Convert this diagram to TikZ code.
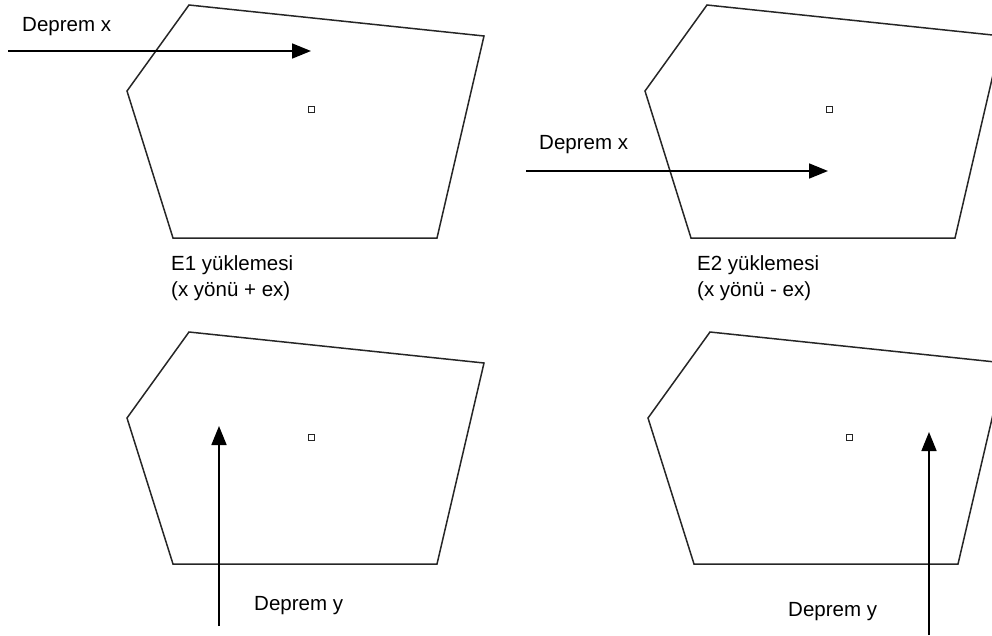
\documentclass[tikz,border=0pt]{standalone}
\usepackage{fontspec}
\setmainfont{Liberation Sans}
\usetikzlibrary{arrows.meta}
\tikzset{
  plate/.style={draw=black!85, line width=1.5pt, line join=miter},
  force/.style={draw=black, line width=1.7pt, -{Triangle[length=19pt,width=15pt]}},
  masspt/.style={draw=black!85, line width=1pt, minimum size=6pt, inner sep=0pt},
  lbl/.style={font=\fontsize{20.5}{26}\selectfont, inner sep=0pt, anchor=west, align=left}
}
\begin{document}
\begin{tikzpicture}[x=1pt,y=-1pt]
\useasboundingbox (0,0) rectangle (992,635);
\clip (0,0) rectangle (992,635);
% polygons
\draw[plate] (189,5) -- (484,36) -- (437,238) -- (173,238) -- (127,91) -- cycle;
\draw[plate] (707,5) -- (1002,36) -- (955,238) -- (691,238) -- (645,91) -- cycle;
\draw[plate] (189,332) -- (484,363) -- (437,564) -- (173,564) -- (127,418) -- cycle;
\draw[plate] (710,332) -- (1005,363) -- (958,564) -- (694,564) -- (648,418) -- cycle;
% mass centres
\node[masspt] (m1) at (311,109) {};
\node[masspt] (m2) at (829,109) {};
\node[masspt] (m3) at (311,437) {};
\node[masspt] (m4) at (849,437) {};
% forces
\coordinate (a1s) at (8,51);   \coordinate (a1e) at (311,51);
\coordinate (a2s) at (526,171); \coordinate (a2e) at (828,171);
\coordinate (a3s) at (219,626); \coordinate (a3e) at (219,426);
\coordinate (a4s) at (929,635); \coordinate (a4e) at (929,432);
\draw[force] (a1s) -- (a1e);
\draw[force] (a2s) -- (a2e);
\draw[force] (a3s) -- (a3e);
\draw[force] (a4s) -- (a4e);
% labels
\node[lbl] (t1) at (22,27) {Deprem x};
\node[lbl] (t2) at (539,145) {Deprem x};
\node[lbl] (t3) at (254,606) {Deprem y};
\node[lbl] (t4) at (788,612) {Deprem y};
\node[lbl,anchor=north west] (c1) at (171,255) {E1 yüklemesi\\(x yönü + ex)};
\node[lbl,anchor=north west] (c2) at (697,255) {E2 yüklemesi\\(x yönü - ex)};
\end{tikzpicture}
\end{document}
